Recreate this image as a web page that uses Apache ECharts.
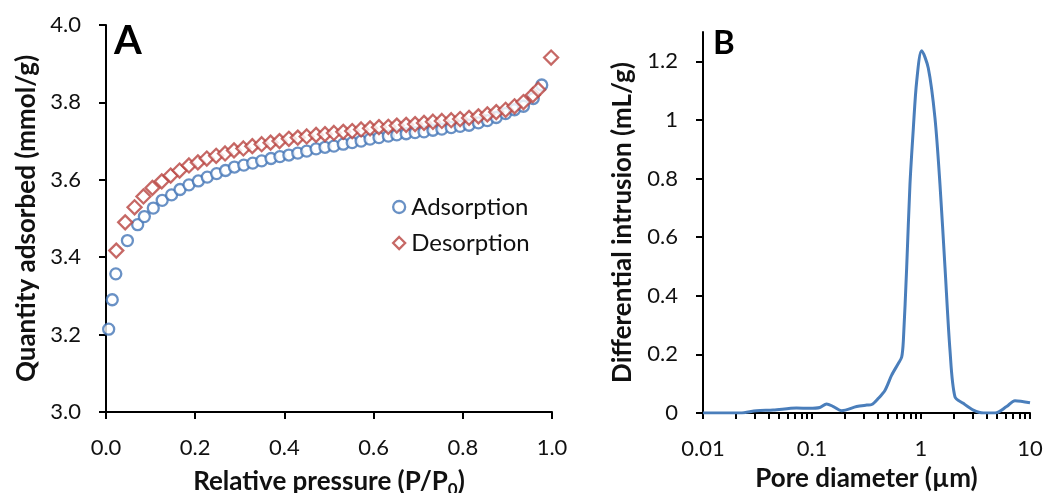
<!DOCTYPE html>
<html>
<head>
<meta charset="utf-8">
<script src="https://cdn.jsdelivr.net/npm/echarts@6/dist/echarts.min.js"></script>
<style>
html,body{margin:0;padding:0;background:#fff;}
#c{width:1045px;height:493px;}
</style>
</head>
<body>
<div id="c"></div>
<script>
// Panel A: N2 isotherm
const adsX = [0.006,0.014,0.022,0.048,0.071,0.086,0.106,0.126,0.147,0.166,0.186,0.207,0.227,0.248,0.268,0.288,0.309,0.329,0.349,0.370,0.390,0.410,0.430,0.450,0.471,0.491,0.511,0.532,0.552,0.572,0.592,0.612,0.633,0.652,0.673,0.693,0.713,0.733,0.753,0.774,0.794,0.814,0.835,0.855,0.875,0.896,0.916,0.936,0.958,0.977];
const adsY = [3.214,3.290,3.357,3.443,3.484,3.505,3.527,3.547,3.561,3.575,3.587,3.597,3.607,3.616,3.624,3.633,3.638,3.643,3.649,3.655,3.660,3.664,3.669,3.674,3.680,3.684,3.687,3.692,3.696,3.700,3.705,3.709,3.713,3.716,3.719,3.722,3.724,3.728,3.731,3.735,3.738,3.741,3.747,3.753,3.761,3.771,3.781,3.790,3.810,3.845];
const desX = [0.023,0.043,0.064,0.084,0.104,0.125,0.145,0.165,0.186,0.206,0.226,0.247,0.267,0.287,0.308,0.328,0.349,0.369,0.389,0.410,0.430,0.450,0.471,0.491,0.511,0.532,0.552,0.572,0.592,0.612,0.633,0.652,0.673,0.693,0.713,0.733,0.753,0.774,0.794,0.814,0.835,0.855,0.875,0.896,0.916,0.936,0.957,0.969,0.998];
const desY = [3.417,3.490,3.529,3.557,3.579,3.596,3.611,3.624,3.637,3.645,3.655,3.662,3.668,3.676,3.681,3.687,3.692,3.696,3.700,3.706,3.709,3.712,3.716,3.718,3.721,3.724,3.726,3.730,3.733,3.736,3.737,3.740,3.742,3.744,3.747,3.750,3.752,3.754,3.757,3.760,3.764,3.769,3.775,3.781,3.790,3.801,3.819,3.833,3.916];
const seriesNames = ['Adsorption','Desorption'];

// Panel B: pore size distribution
const poreD = [0.01,0.022,0.031,0.044,0.072,0.095,0.118,0.136,0.157,0.187,0.257,0.318,0.353,0.406,0.468,0.538,0.619,0.665,0.689,0.739,0.792,0.851,0.913,1.014,1.166,1.343,1.493,1.66,1.845,2.05,2.44,3.02,3.73,4.79,6.1,7.28,10];
const intrusion = [0,0,0.008,0.010,0.017,0.016,0.019,0.031,0.022,0.008,0.022,0.027,0.029,0.050,0.078,0.129,0.169,0.191,0.248,0.497,0.780,0.973,1.132,1.236,1.177,1.007,0.780,0.497,0.214,0.055,0.033,0.010,0,0,0.022,0.042,0.035];

const yTicksB = [0,0.2,0.4,0.6,0.8,1,1.2];
const xMajorB = [0.01,0.1,1,10];
const xMinorB = [0.01,0.02,0.03,0.04,0.05,0.06,0.07,0.08,0.09,0.1,0.2,0.3,0.4,0.5,0.6,0.7,0.8,0.9,1,2,3,4,5,6,7,8,9,10];

const FONT = 'Lato';
const BLUE = '#4376B6';
const RED = '#B8423F';
const axisLine = {show:true, lineStyle:{color:'#000', width:2}};
const axisTick = {show:true, length:7, inside:false, lineStyle:{color:'#000', width:2}};
const labelStyle = {color:'#111', fontFamily:FONT, fontSize:22};
const nameStyle = {color:'#111', fontFamily:FONT, fontSize:26, fontWeight:'bold'};

const chart = echarts.init(document.getElementById('c'), null, {renderer:'canvas'});
chart.setOption({
  animation:false,
  backgroundColor:'#fff',
  grid:[
    {left:106, top:25, width:446, height:387, containLabel:false, outerBoundsMode:'none'},
    {left:703, top:32, width:327, height:381, containLabel:false, outerBoundsMode:'none'}
  ],
  legend:{
    data:seriesNames,
    orient:'vertical',
    left:387, top:190,
    itemWidth:12, itemHeight:12, itemGap:12,
    itemStyle:{borderWidth:2.3},
    textStyle:{color:'#111', fontFamily:FONT, fontSize:24, padding:[0,0,0,1]}
  },
  xAxis:[
    {gridIndex:0, type:'value', min:0, max:1, interval:0.2,
     axisLine:axisLine, axisTick:axisTick, splitLine:{show:false},
     axisLabel:Object.assign({margin:25, formatter:v=>v.toFixed(1)}, labelStyle),
     name:'Relative pressure (P/P{sub|0})', nameLocation:'middle', nameGap:53,
     nameTextStyle:Object.assign({rich:{sub:{fontFamily:FONT, fontSize:17, fontWeight:'bold', color:'#111', padding:[16,0,0,0]}}}, nameStyle)
    },
    {gridIndex:1, type:'log', logBase:10, min:0.01, max:10,
     axisLine:axisLine, splitLine:{show:false},
     axisTick:{show:true, length:6, lineStyle:{color:'#000', width:2}, customValues:xMinorB},
     axisLabel:Object.assign({margin:25, customValues:xMajorB, formatter:v=>String(v)}, labelStyle),
     name:'Pore diameter (µm)', nameLocation:'middle', nameGap:53, nameTextStyle:nameStyle
    }
  ],
  yAxis:[
    {gridIndex:0, type:'value', min:3.0, max:4.0, interval:0.2,
     axisLine:axisLine, axisTick:axisTick, splitLine:{show:false},
     axisLabel:Object.assign({margin:25, formatter:v=>v.toFixed(1)}, labelStyle),
     name:'Quantity adsorbed (mmol/g)', nameLocation:'middle', nameGap:66, nameTextStyle:nameStyle
    },
    {gridIndex:1, type:'value', min:0, max:1.3,
     axisLine:axisLine, splitLine:{show:false},
     axisTick:Object.assign({}, axisTick, {customValues:yTicksB}),
     axisLabel:Object.assign({margin:25, customValues:yTicksB}, labelStyle),
     name:'Differential intrusion (mL/g)', nameLocation:'middle', nameGap:67, nameTextStyle:nameStyle
    }
  ],
  graphic:[
    {type:'text', left:114, top:21, style:{text:'A', fontFamily:FONT, fontSize:40, fontWeight:'bold', fill:'#000'}},
    {type:'text', left:713, top:27, style:{text:'B', fontFamily:FONT, fontSize:33, fontWeight:'bold', fill:'#000'}}
  ],
  series:[
    {name:seriesNames[0], type:'scatter', xAxisIndex:0, yAxisIndex:0,
     symbol:'circle', symbolSize:11,
     itemStyle:{color:'#fff', borderColor:BLUE, borderWidth:2.3},
     data:adsX.map((x,i)=>[x, adsY[i]])},
    {name:seriesNames[1], type:'scatter', xAxisIndex:0, yAxisIndex:0,
     symbol:'diamond', symbolSize:14,
     itemStyle:{color:'#fff', borderColor:RED, borderWidth:2.3},
     data:desX.map((x,i)=>[x, desY[i]])},
    {name:'PSD', type:'line', xAxisIndex:1, yAxisIndex:1,
     showSymbol:false, smooth:0.3,
     lineStyle:{color:'#4A7EBB', width:3},
     data:poreD.map((d,i)=>[d, intrusion[i]])}
  ]
});
</script>
</body>
</html>
